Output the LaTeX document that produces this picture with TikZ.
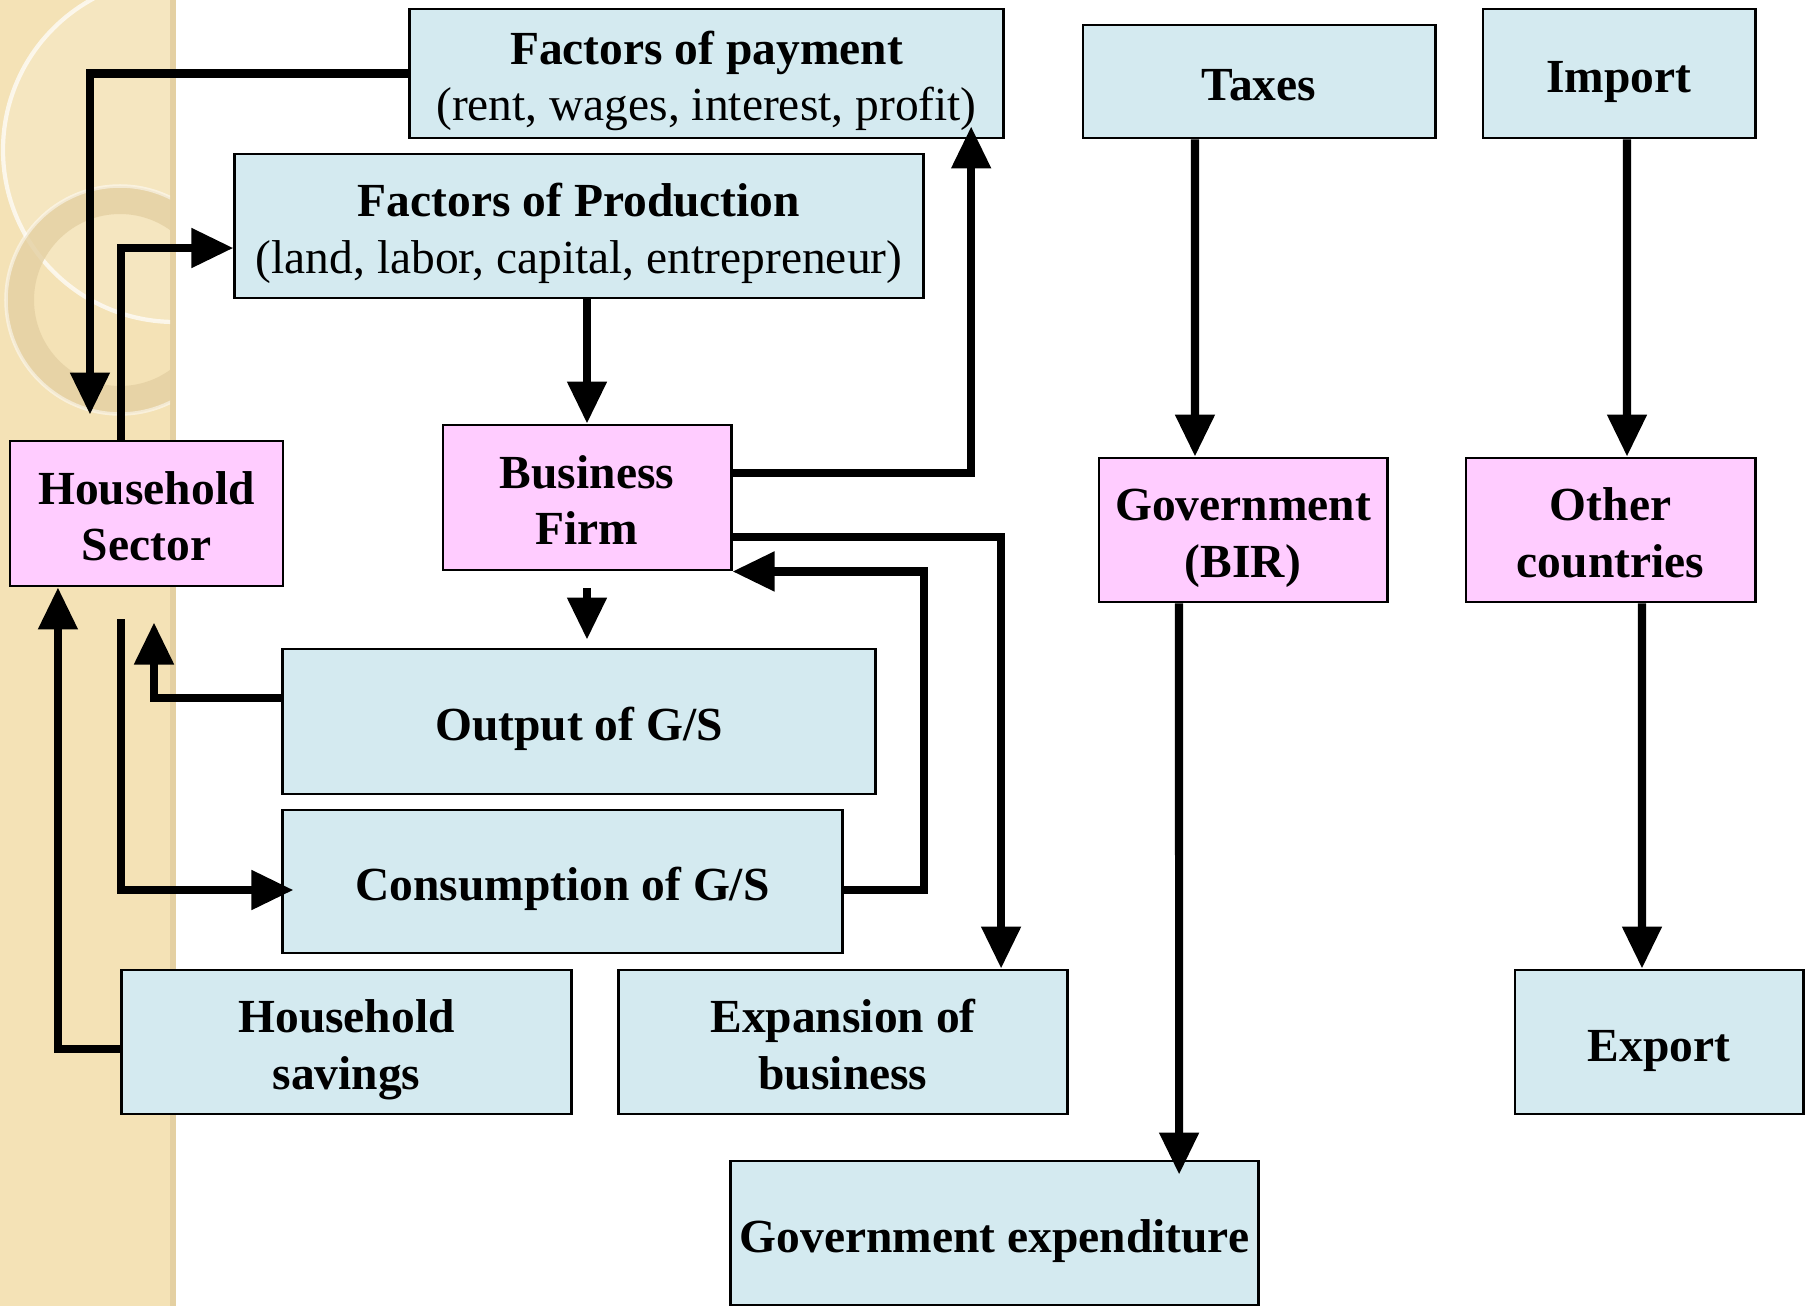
\documentclass[tikz,border=0pt]{standalone}
\usepackage{fontspec}
\setmainfont{Liberation Serif}
\usetikzlibrary{positioning,arrows.meta}

\definecolor{boxblue}{RGB}{212,234,240}
\definecolor{agentpink}{RGB}{255,204,255}
\definecolor{stripbeige}{RGB}{244,226,182}
\definecolor{ringtan}{RGB}{228,208,162}

\tikzset{
  box/.style={draw, line width=0.8pt, fill=boxblue, align=center, inner sep=0pt,
    font=\bfseries\fontsize{13.5}{16.2}\selectfont,
    text height=13.5pt, text depth=2.7pt},
  two/.style={text height=29.7pt},
  agent/.style={box, two, fill=agentpink},
  flow/.style={line width=2.3pt, -{Triangle[length=0.42cm,width=0.38cm]}},
}

\begin{document}
\begin{tikzpicture}[x=0.01cm, y=-0.01cm]
  \useasboundingbox (0,0) rectangle (1812,1306);

  % beige strip on the left
  \fill[stripbeige] (0,0) rectangle (176,1306);
  \fill[ringtan] (170,0) rectangle (176,1306);
  \begin{scope}
    \clip (0,0) rectangle (170,1306);
    \fill[white, opacity=0.15] (175,150) circle [radius=172];
    \draw[white, opacity=0.7, line width=1.2pt] (175,150) circle [radius=172];
    \draw[ringtan, opacity=0.8, line width=0.28cm] (120,300) circle [radius=100];
    \draw[white, opacity=0.5, line width=1pt] (120,300) circle [radius=114];
  \end{scope}

  % upper row
  \node[box, two, minimum width=5.93cm, minimum height=1.29cm] (pay) at (706.5,73.5)
    {Factors of payment\\\mdseries(rent, wages, interest, profit)};
  \node[box, two, minimum width=6.88cm, minimum height=1.44cm] (prod) at (579,226)
    {Factors of Production\\\mdseries(land, labor, capital, entrepreneur)};
  \node[box, minimum width=3.52cm, minimum height=1.13cm] (taxes) at (1259,81.5) {Taxes};
  \node[box, minimum width=2.72cm, minimum height=1.29cm] (import) at (1619,73.5) {Import};

  % sectors
  \node[agent, minimum width=2.73cm, minimum height=1.45cm] (house) at (146.5,513.5) {Household\\Sector};
  \node[agent, minimum width=2.88cm, minimum height=1.45cm] (firm) at (587,497.5) {Business\\Firm};
  \node[agent, minimum width=2.88cm, minimum height=1.44cm] (gov) at (1243,530) {Government\\(BIR)};
  \node[agent, minimum width=2.89cm, minimum height=1.44cm] (other) at (1610.5,530) {Other\\countries};

  % lower boxes
  \node[box, minimum width=5.92cm, minimum height=1.45cm] (output) at (579,721.5) {Output of G/S};
  \node[box, minimum width=5.59cm, minimum height=1.43cm] (cons) at (562.5,881.5) {Consumption of G/S};
  \node[box, two, minimum width=4.49cm, minimum height=1.44cm] (savings) at (346.5,1042) {Household\\savings};
  \node[box, two, minimum width=4.48cm, minimum height=1.44cm] (expand) at (843,1042) {Expansion of\\business};
  \node[box, minimum width=2.88cm, minimum height=1.44cm] (export) at (1659,1042) {Export};
  \node[box, minimum width=5.27cm, minimum height=1.44cm] (govexp) at (994.5,1233) {Government expenditure};

  % household and firm flows
  \draw[flow, shorten >=0.25cm] (pay.west) -| ([xshift=-0.565cm]house.north);
  \draw[flow] ([xshift=-0.255cm]house.north) |- ([yshift=-0.22cm]prod.west);
  \draw[flow] (prod.south -| firm.north) -- (firm.north);
  \draw[flow, shorten >=-0.13cm] ([yshift=0.245cm]firm.east) -| ([xshift=2.645cm]pay.south);
  \draw[flow] ([yshift=-0.395cm]firm.east) -| ([xshift=1.58cm]expand.north);
  \draw[flow] ([yshift=-0.085cm]cons.east) -- ++(80,0) |- (firm.south east);
  \draw[flow, shorten <=0.17cm, shorten >=0.08cm] (firm.south) -- (firm.south |- output.north);
  \draw[flow, shorten >=0.35cm] ([yshift=0.235cm]output.west) -| ([xshift=0.075cm]house.south);
  \draw[flow, shorten <=0.32cm, shorten >=-0.12cm] ([xshift=-0.255cm]house.south) |- ([yshift=-0.085cm]cons.west);
  \draw[flow] ([yshift=-0.07cm]savings.west) -| ([xshift=-0.885cm]house.south);

  % government and foreign flows
  \draw[flow] ([xshift=-0.64cm]taxes.south) -- ([xshift=-0.48cm]gov.north);
  \draw[flow] ([xshift=0.08cm]import.south) -- ([xshift=0.165cm]other.north);
  \draw[flow, shorten >=-0.15cm] ([xshift=-0.64cm]gov.south) -- ([xshift=1.845cm]govexp.north);
  \draw[flow] ([xshift=0.315cm]other.south) -- ([xshift=-0.17cm]export.north);
\end{tikzpicture}
\end{document}
